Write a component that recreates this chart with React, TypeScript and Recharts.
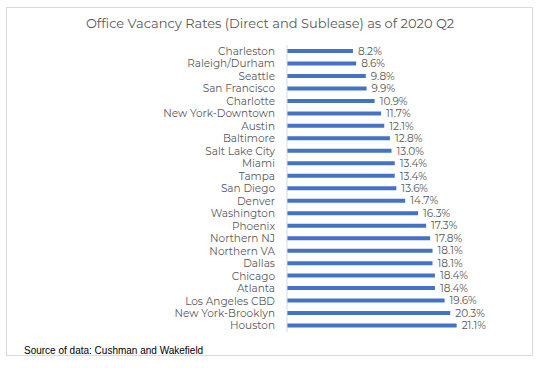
import React from "react"
import { Bar, BarChart, XAxis, YAxis, LabelList } from "recharts"

const cities = [
  "Charleston", "Raleigh/Durham", "Seattle", "San Francisco", "Charlotte",
  "New York-Downtown", "Austin", "Baltimore", "Salt Lake City", "Miami",
  "Tampa", "San Diego", "Denver", "Washington", "Phoenix", "Northern NJ",
  "Northern VA", "Dallas", "Chicago", "Atlanta", "Los Angeles CBD",
  "New York-Brooklyn", "Houston",
]

const vacancy = [
  8.2, 8.6, 9.8, 9.9, 10.9, 11.7, 12.1, 12.8, 13.0, 13.4, 13.4, 13.6,
  14.7, 16.3, 17.3, 17.8, 18.1, 18.1, 18.4, 18.4, 19.6, 20.3, 21.1,
]

const data = cities.map((name, i) => ({ name, value: vacancy[i] }))

const FONT = "Montserrat, 'Open Sans', Lato, sans-serif"

export default function App() {
  return (
    <div style={{ position: "absolute", left: 0, top: 0, width: 540, height: 368, background: "#fff" }}>
      <div
        style={{
          position: "absolute", left: 6, top: 7, width: 527, height: 349,
          border: "1px solid #d9d9d9", boxSizing: "border-box",
        }}
      />
      <div
        style={{
          position: "absolute", left: 0, top: 15, width: 540, textAlign: "center",
          fontFamily: FONT, fontSize: 13, color: "#595959",
        }}
      >
        Office Vacancy Rates (Direct and Sublease) as of 2020 Q2
      </div>
      <div style={{ position: "absolute", left: 0, top: 0 }}>
        <BarChart
          layout="vertical"
          width={540}
          height={368}
          data={data}
          margin={{ top: 45, right: 52, bottom: 36, left: 0 }}
          barCategoryGap={0}
        >
          <XAxis type="number" domain={[0, 25]} hide />
          <YAxis
            type="category"
            dataKey="name"
            width={287}
            tickLine={false}
            axisLine={{ stroke: "#d9d9d9" }}
            interval={0}
            tick={{ fill: "#595959", fontSize: 10.5, fontFamily: FONT }}
            tickMargin={6}
          />
          <Bar dataKey="value" fill="#4472c4" barSize={4} isAnimationActive={false}>
            <LabelList
              dataKey="value"
              position="right"
              offset={5}
              formatter={(v: any) => `${Number(v).toFixed(1)}%`}
              style={{ fill: "#595959", fontSize: 10.5, fontFamily: FONT }}
            />
          </Bar>
        </BarChart>
      </div>
      <div
        style={{
          position: "absolute", left: 24, top: 345, fontFamily: "'Liberation Sans', Arial, sans-serif",
          fontSize: 10, fontWeight: 400, color: "#000",
        }}
      >
        Source of data: Cushman and Wakefield
      </div>
    </div>
  )
}
